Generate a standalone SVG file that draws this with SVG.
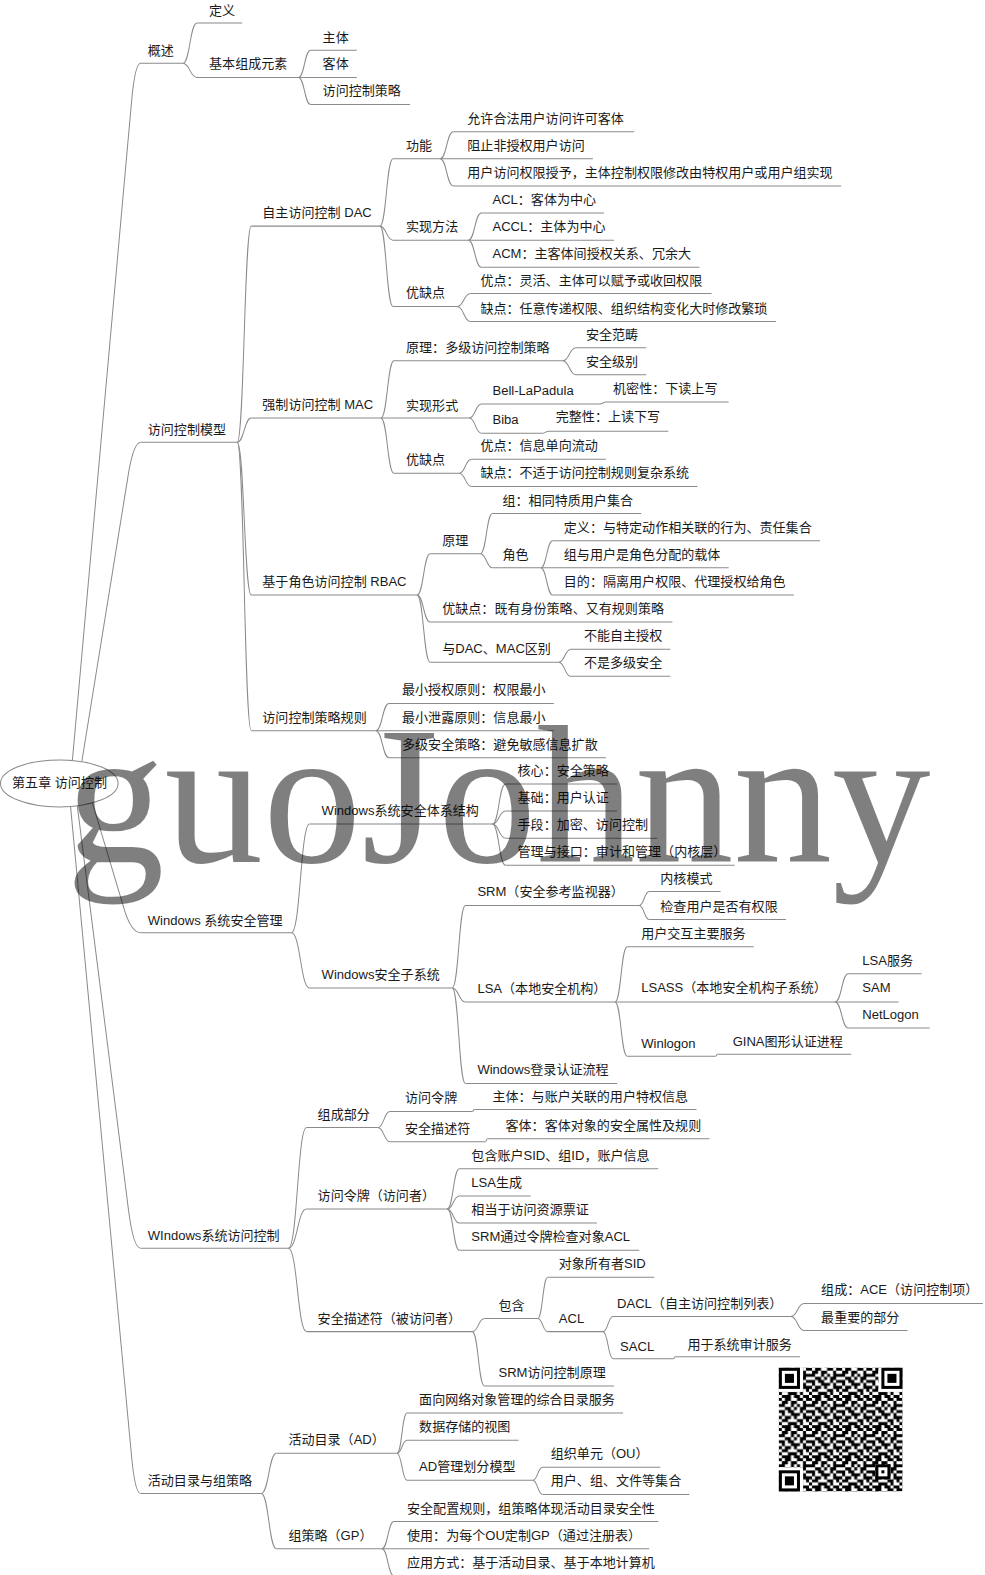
<svg xmlns="http://www.w3.org/2000/svg" width="985" height="1575" viewBox="0 0 985 1575">
<style>
.t{font-family:"Liberation Sans","Noto Sans CJK SC",sans-serif;font-size:13px;fill:#1a1a1a}
.u{stroke:#8a8a8a;stroke-width:1;fill:none}
#connectors path{stroke:#8a8a8a;stroke-width:1;fill:none}
.wm{font-family:"Liberation Serif",serif;font-size:196px;fill:#000;fill-opacity:0.5}
</style>
<defs>
<pattern id="qrp" patternUnits="userSpaceOnUse" x="775" y="1361" width="30" height="30">
<rect width="30" height="30" fill="#fff"/>
<path fill="#000" d="M0 0h3v3h-3z M6 0h6v3h-6z M18 0h6v3h-6z M27 0h3v3h-3z M3 3h6v3h-6z M12 3h6v3h-6z M24 3h3v3h-3z M0 6h6v3h-6z M12 6h3v3h-3z M18 6h3v3h-3z M24 6h6v3h-6z M6 9h6v3h-6z M15 9h3v3h-3z M21 9h6v3h-6z M0 12h6v3h-6z M9 12h6v3h-6z M21 12h3v3h-3z M27 12h3v3h-3z M3 15h3v3h-3z M12 15h9v3h-9z M24 15h3v3h-3z M0 18h3v3h-3z M6 18h6v3h-6z M15 18h3v3h-3z M24 18h6v3h-6z M3 21h6v3h-6z M18 21h6v3h-6z M27 21h3v3h-3z M0 24h3v3h-3z M9 24h9v3h-9z M21 24h3v3h-3z M3 27h9v3h-9z M15 27h6v3h-6z M24 27h6v3h-6z"/>
</pattern>
</defs>
<rect width="985" height="1575" fill="#fff"/>
<g transform="scale(1.005)">
<g id="connectors">
<path d="M70 779 L131 100 Q134.4 63 140 63"/>
<path d="M78 779 L128 470 Q133.2 440 140 440"/>
<path d="M86 779 L124 906 Q131 928 140 928"/>
<path d="M74 779 L128 1205 Q132.8 1242 140 1242"/>
<path d="M68 779 L131 1450 Q134.4 1486 140 1486"/>
<path d="M182 63C189 63 189 23 196 23"/>
<path d="M182 63C189 63 189 77 196 77"/>
<path d="M297 77C303 77 303 50 309 50"/>
<path d="M297 77C303 77 303 104 309 104"/>
<path d="M236 440C243 440 243 225 250 225"/>
<path d="M236 440C243 440 243 416 250 416"/>
<path d="M236 440C243 440 243 592 250 592"/>
<path d="M236 440C243 440 243 727 250 727"/>
<path d="M378 225C384.5 225 384.5 158 391 158"/>
<path d="M378 225C384.5 225 384.5 239 391 239"/>
<path d="M378 225C384.5 225 384.5 305 391 305"/>
<path d="M438 158C444.5 158 444.5 131 451 131"/>
<path d="M438 158C444.5 158 444.5 185 451 185"/>
<path d="M466 239C472.5 239 472.5 212 479 212"/>
<path d="M466 239C472.5 239 472.5 266 479 266"/>
<path d="M455 305C461.5 305 461.5 292 468 292"/>
<path d="M455 305C461.5 305 461.5 320 468 320"/>
<path d="M379 416C385.5 416 385.5 359 392 359"/>
<path d="M379 416C385.5 416 385.5 471 392 471"/>
<path d="M560 359C566.5 359 566.5 346 573 346"/>
<path d="M560 359C566.5 359 566.5 373 573 373"/>
<path d="M467 416C473 416 473 402 479 402"/>
<path d="M467 416C473 416 473 431 479 431"/>
<path d="M597 402C600 402 600 400 603 400"/>
<path d="M540 431C543 431 543 429 546 429"/>
<path d="M457 471C463 471 463 457 469 457"/>
<path d="M457 471C463 471 463 484 469 484"/>
<path d="M415 592C421.5 592 421.5 551 428 551"/>
<path d="M415 592C421.5 592 421.5 619 428 619"/>
<path d="M415 592C421.5 592 421.5 659 428 659"/>
<path d="M478 551C484 551 484 511 490 511"/>
<path d="M478 551C484 551 484 565 490 565"/>
<path d="M538 565C544 565 544 538 550 538"/>
<path d="M538 565C544 565 544 592 550 592"/>
<path d="M556 659C562 659 562 646 568 646"/>
<path d="M556 659C562 659 562 673 568 673"/>
<path d="M374 727C380.5 727 380.5 700 387 700"/>
<path d="M374 727C380.5 727 380.5 754 387 754"/>
<path d="M290 928C299 928 299 820 308 820"/>
<path d="M290 928C299 928 299 983 308 983"/>
<path d="M490 820C496.5 820 496.5 780 503 780"/>
<path d="M490 820C496.5 820 496.5 807 503 807"/>
<path d="M490 820C496.5 820 496.5 834 503 834"/>
<path d="M490 820C496.5 820 496.5 861 503 861"/>
<path d="M450 983C456.5 983 456.5 901 463 901"/>
<path d="M450 983C456.5 983 456.5 997 463 997"/>
<path d="M450 983C456.5 983 456.5 1078 463 1078"/>
<path d="M636 901C641 901 641 887 646 887"/>
<path d="M636 901C641 901 641 915 646 915"/>
<path d="M612 997C618 997 618 942 624 942"/>
<path d="M612 997C618 997 618 1051 624 1051"/>
<path d="M831 997C837.5 997 837.5 969 844 969"/>
<path d="M831 997C837.5 997 837.5 1023 844 1023"/>
<path d="M712 1051C713 1051 713 1049 714 1049"/>
<path d="M287 1242C296 1242 296 1122 305 1122"/>
<path d="M287 1242C296 1242 296 1203 305 1203"/>
<path d="M287 1242C296 1242 296 1325 305 1325"/>
<path d="M376 1122C382 1122 382 1106 388 1106"/>
<path d="M376 1122C382 1122 382 1136 388 1136"/>
<path d="M470 1106C471 1106 471 1104 472 1104"/>
<path d="M483 1136C484 1136 484 1133 485 1133"/>
<path d="M445 1203C451 1203 451 1163 457 1163"/>
<path d="M445 1203C451 1203 451 1190 457 1190"/>
<path d="M445 1203C451 1203 451 1217 457 1217"/>
<path d="M445 1203C451 1203 451 1244 457 1244"/>
<path d="M470 1325C476 1325 476 1312 482 1312"/>
<path d="M470 1325C476 1325 476 1379 482 1379"/>
<path d="M535 1312C540 1312 540 1271 545 1271"/>
<path d="M535 1312C540 1312 540 1325 545 1325"/>
<path d="M600 1325C605 1325 605 1310 610 1310"/>
<path d="M600 1325C605 1325 605 1352 610 1352"/>
<path d="M787 1310C793.5 1310 793.5 1297 800 1297"/>
<path d="M787 1310C793.5 1310 793.5 1324 800 1324"/>
<path d="M670 1352C671 1352 671 1350 672 1350"/>
<path d="M260 1486C267.5 1486 267.5 1446 275 1446"/>
<path d="M260 1486C267.5 1486 267.5 1541 275 1541"/>
<path d="M395 1446C400 1446 400 1406 405 1406"/>
<path d="M395 1446C400 1446 400 1433 405 1433"/>
<path d="M395 1446C400 1446 400 1473 405 1473"/>
<path d="M530 1473C535 1473 535 1460 540 1460"/>
<path d="M530 1473C535 1473 535 1487 540 1487"/>
<path d="M380 1541C386 1541 386 1514 392 1514"/>
<path d="M380 1541C386 1541 386 1568 392 1568"/>
</g>

<g id="root"><ellipse cx="59" cy="779.5" rx="58.5" ry="23.4" fill="#fff" stroke="#8a8a8a" stroke-width="1"/><text class="t" x="12" y="783">第五章 访问控制</text></g>

<g id="n1"><path class="u" d="M140 63H182"/><text class="t" x="147" y="55">概述</text></g>
<g id="n1-1"><path class="u" d="M196 23H241"/><text class="t" x="208" y="15">定义</text></g>
<g id="n1-2"><path class="u" d="M196 77H297"/><text class="t" x="208" y="68">基本组成元素</text></g>
<g id="n1-2-1"><path class="u" d="M309 50H355"/><text class="t" x="321" y="42">主体</text></g>
<g id="n1-2-2"><path class="u" d="M297 77H355"/><text class="t" x="321" y="68">客体</text></g>
<g id="n1-2-3"><path class="u" d="M309 104H408"/><text class="t" x="321" y="95">访问控制策略</text></g>

<g id="n2"><path class="u" d="M140 440H236"/><text class="t" x="147" y="432">访问控制模型</text></g>
<g id="n2-1"><path class="u" d="M250 225H378"/><text class="t" x="261" y="216">自主访问控制 DAC</text></g>
<g id="n2-1-1"><path class="u" d="M391 158H438"/><text class="t" x="404" y="149">功能</text></g>
<g id="n2-1-1-1"><path class="u" d="M451 131H631"/><text class="t" x="465" y="122">允许合法用户访问许可客体</text></g>
<g id="n2-1-1-2"><path class="u" d="M438 158H590"/><text class="t" x="465" y="149">阻止非授权用户访问</text></g>
<g id="n2-1-1-3"><path class="u" d="M451 185H837"/><text class="t" x="465" y="176">用户访问权限授予，主体控制权限修改由特权用户或用户组实现</text></g>
<g id="n2-1-2"><path class="u" d="M391 239H466"/><text class="t" x="404" y="230">实现方法</text></g>
<g id="n2-1-2-1"><path class="u" d="M479 212H601"/><text class="t" x="490" y="203">ACL：客体为中心</text></g>
<g id="n2-1-2-2"><path class="u" d="M466 239H611"/><text class="t" x="490" y="230">ACCL：主体为中心</text></g>
<g id="n2-1-2-3"><path class="u" d="M479 266H696"/><text class="t" x="490" y="257">ACM：主客体间授权关系、冗余大</text></g>
<g id="n2-1-3"><path class="u" d="M391 305H455"/><text class="t" x="404" y="296">优缺点</text></g>
<g id="n2-1-3-1"><path class="u" d="M468 292H708"/><text class="t" x="478" y="284">优点：灵活、主体可以赋予或收回权限</text></g>
<g id="n2-1-3-2"><path class="u" d="M468 320H772"/><text class="t" x="478" y="311">缺点：任意传递权限、组织结构变化大时修改繁琐</text></g>

<g id="n2-2"><path class="u" d="M250 416H379"/><text class="t" x="261" y="407">强制访问控制 MAC</text></g>
<g id="n2-2-1"><path class="u" d="M392 359H560"/><text class="t" x="404" y="350">原理：多级访问控制策略</text></g>
<g id="n2-2-1-1"><path class="u" d="M573 346H643"/><text class="t" x="583" y="337">安全范畴</text></g>
<g id="n2-2-1-2"><path class="u" d="M573 373H643"/><text class="t" x="583" y="364">安全级别</text></g>
<g id="n2-2-2"><path class="u" d="M379 416H467"/><text class="t" x="404" y="408">实现形式</text></g>
<g id="n2-2-2-1"><path class="u" d="M479 402H597"/><text class="t" x="490" y="393">Bell-LaPadula</text></g>
<g id="n2-2-2-1-1"><path class="u" d="M603 400H725"/><text class="t" x="610" y="391">机密性：下读上写</text></g>
<g id="n2-2-2-2"><path class="u" d="M479 431H540"/><text class="t" x="490" y="422">Biba</text></g>
<g id="n2-2-2-2-1"><path class="u" d="M546 429H665"/><text class="t" x="553" y="419">完整性：上读下写</text></g>
<g id="n2-2-3"><path class="u" d="M392 471H457"/><text class="t" x="404" y="462">优缺点</text></g>
<g id="n2-2-3-1"><path class="u" d="M469 457H603"/><text class="t" x="478" y="448">优点：信息单向流动</text></g>
<g id="n2-2-3-2"><path class="u" d="M469 484H694"/><text class="t" x="478" y="475">缺点：不适于访问控制规则复杂系统</text></g>

<g id="n2-3"><path class="u" d="M250 592H415"/><text class="t" x="261" y="583">基于角色访问控制 RBAC</text></g>
<g id="n2-3-1"><path class="u" d="M428 551H478"/><text class="t" x="440" y="542">原理</text></g>
<g id="n2-3-1-1"><path class="u" d="M490 511H638"/><text class="t" x="500" y="502">组：相同特质用户集合</text></g>
<g id="n2-3-1-2"><path class="u" d="M490 565H538"/><text class="t" x="500" y="556">角色</text></g>
<g id="n2-3-1-2-1"><path class="u" d="M550 538H816"/><text class="t" x="561" y="529">定义：与特定动作相关联的行为、责任集合</text></g>
<g id="n2-3-1-2-2"><path class="u" d="M538 565H725"/><text class="t" x="561" y="556">组与用户是角色分配的载体</text></g>
<g id="n2-3-1-2-3"><path class="u" d="M550 592H790"/><text class="t" x="561" y="583">目的：隔离用户权限、代理授权给角色</text></g>
<g id="n2-3-2"><path class="u" d="M428 619H669"/><text class="t" x="440" y="610">优缺点：既有身份策略、又有规则策略</text></g>
<g id="n2-3-3"><path class="u" d="M428 659H556"/><text class="t" x="440" y="650">与DAC、MAC区别</text></g>
<g id="n2-3-3-1"><path class="u" d="M568 646H667"/><text class="t" x="581" y="637">不能自主授权</text></g>
<g id="n2-3-3-2"><path class="u" d="M568 673H667"/><text class="t" x="581" y="664">不是多级安全</text></g>

<g id="n2-4"><path class="u" d="M250 727H374"/><text class="t" x="261" y="718">访问控制策略规则</text></g>
<g id="n2-4-1"><path class="u" d="M387 700H551"/><text class="t" x="400" y="691">最小授权原则：权限最小</text></g>
<g id="n2-4-2"><path class="u" d="M374 727H551"/><text class="t" x="400" y="718">最小泄露原则：信息最小</text></g>
<g id="n2-4-3"><path class="u" d="M387 754H603"/><text class="t" x="400" y="745">多级安全策略：避免敏感信息扩散</text></g>

<g id="n3"><path class="u" d="M140 928H290"/><text class="t" x="147" y="920">Windows 系统安全管理</text></g>
<g id="n3-1"><path class="u" d="M308 820H490"/><text class="t" x="320" y="811">Windows系统安全体系结构</text></g>
<g id="n3-1-1"><path class="u" d="M503 780H614"/><text class="t" x="515" y="771">核心：安全策略</text></g>
<g id="n3-1-2"><path class="u" d="M503 807H614"/><text class="t" x="515" y="798">基础：用户认证</text></g>
<g id="n3-1-3"><path class="u" d="M503 834H654"/><text class="t" x="515" y="825">手段：加密、访问控制</text></g>
<g id="n3-1-4"><path class="u" d="M503 861H731"/><text class="t" x="515" y="852">管理与接口：审计和管理（内核层）</text></g>
<g id="n3-2"><path class="u" d="M308 983H450"/><text class="t" x="320" y="974">Windows安全子系统</text></g>
<g id="n3-2-1"><path class="u" d="M463 901H636"/><text class="t" x="475" y="892">SRM（安全参考监视器）</text></g>
<g id="n3-2-1-1"><path class="u" d="M646 887H717"/><text class="t" x="657" y="879">内核模式</text></g>
<g id="n3-2-1-2"><path class="u" d="M646 915H782"/><text class="t" x="657" y="906">检查用户是否有权限</text></g>
<g id="n3-2-2"><path class="u" d="M463 997H612"/><text class="t" x="475" y="988">LSA（本地安全机构）</text></g>
<g id="n3-2-2-1"><path class="u" d="M624 942H750"/><text class="t" x="638" y="933">用户交互主要服务</text></g>
<g id="n3-2-2-2"><path class="u" d="M612 997H831"/><text class="t" x="638" y="987">LSASS（本地安全机构子系统）</text></g>
<g id="n3-2-2-2-1"><path class="u" d="M844 969H917"/><text class="t" x="858" y="960">LSA服务</text></g>
<g id="n3-2-2-2-2"><path class="u" d="M831 997H894"/><text class="t" x="858" y="987">SAM</text></g>
<g id="n3-2-2-2-3"><path class="u" d="M844 1023H925"/><text class="t" x="858" y="1014">NetLogon</text></g>
<g id="n3-2-2-3"><path class="u" d="M624 1051H712"/><text class="t" x="638" y="1043">Winlogon</text></g>
<g id="n3-2-2-3-1"><path class="u" d="M714 1049H847"/><text class="t" x="729" y="1041">GINA图形认证进程</text></g>
<g id="n3-2-3"><path class="u" d="M463 1078H614"/><text class="t" x="475" y="1069">Windows登录认证流程</text></g>

<g id="n4"><path class="u" d="M140 1242H287"/><text class="t" x="147" y="1234">WIndows系统访问控制</text></g>
<g id="n4-1"><path class="u" d="M305 1122H376"/><text class="t" x="316" y="1113">组成部分</text></g>
<g id="n4-1-1"><path class="u" d="M388 1106H470"/><text class="t" x="403" y="1097">访问令牌</text></g>
<g id="n4-1-1-1"><path class="u" d="M472 1104H693"/><text class="t" x="490" y="1096">主体：与账户关联的用户特权信息</text></g>
<g id="n4-1-2"><path class="u" d="M388 1136H483"/><text class="t" x="403" y="1127">安全描述符</text></g>
<g id="n4-1-2-1"><path class="u" d="M485 1133H706"/><text class="t" x="503" y="1124">客体：客体对象的安全属性及规则</text></g>
<g id="n4-2"><path class="u" d="M305 1203H445"/><text class="t" x="316" y="1194">访问令牌（访问者）</text></g>
<g id="n4-2-1"><path class="u" d="M457 1163H655"/><text class="t" x="469" y="1154">包含账户SID、组ID，账户信息</text></g>
<g id="n4-2-2"><path class="u" d="M457 1190H528"/><text class="t" x="469" y="1181">LSA生成</text></g>
<g id="n4-2-3"><path class="u" d="M457 1217H594"/><text class="t" x="469" y="1208">相当于访问资源票证</text></g>
<g id="n4-2-4"><path class="u" d="M457 1244H636"/><text class="t" x="469" y="1235">SRM通过令牌检查对象ACL</text></g>
<g id="n4-3"><path class="u" d="M305 1325H470"/><text class="t" x="316" y="1316">安全描述符（被访问者）</text></g>
<g id="n4-3-1"><path class="u" d="M482 1312H535"/><text class="t" x="496" y="1303">包含</text></g>
<g id="n4-3-1-1"><path class="u" d="M545 1271H651"/><text class="t" x="556" y="1262">对象所有者SID</text></g>
<g id="n4-3-1-2"><path class="u" d="M545 1325H600"/><text class="t" x="556" y="1316">ACL</text></g>
<g id="n4-3-1-2-1"><path class="u" d="M610 1310H787"/><text class="t" x="614" y="1301">DACL（自主访问控制列表）</text></g>
<g id="n4-3-1-2-1-1"><path class="u" d="M800 1297H978"/><text class="t" x="817" y="1288">组成：ACE（访问控制项）</text></g>
<g id="n4-3-1-2-1-2"><path class="u" d="M800 1324H903"/><text class="t" x="817" y="1315">最重要的部分</text></g>
<g id="n4-3-1-2-2"><path class="u" d="M610 1352H670"/><text class="t" x="617" y="1344">SACL</text></g>
<g id="n4-3-1-2-2-1"><path class="u" d="M672 1350H796"/><text class="t" x="684" y="1342">用于系统审计服务</text></g>
<g id="n4-3-2"><path class="u" d="M482 1379H611"/><text class="t" x="496" y="1370">SRM访问控制原理</text></g>

<g id="n5"><path class="u" d="M140 1486H260"/><text class="t" x="147" y="1478">活动目录与组策略</text></g>
<g id="n5-1"><path class="u" d="M275 1446H395"/><text class="t" x="287" y="1437">活动目录（AD）</text></g>
<g id="n5-1-1"><path class="u" d="M405 1406H620"/><text class="t" x="417" y="1397">面向网络对象管理的综合目录服务</text></g>
<g id="n5-1-2"><path class="u" d="M405 1433H516"/><text class="t" x="417" y="1424">数据存储的视图</text></g>
<g id="n5-1-3"><path class="u" d="M405 1473H530"/><text class="t" x="417" y="1464">AD管理划分模型</text></g>
<g id="n5-1-3-1"><path class="u" d="M540 1460H657"/><text class="t" x="548" y="1451">组织单元（OU）</text></g>
<g id="n5-1-3-2"><path class="u" d="M540 1487H686"/><text class="t" x="548" y="1478">用户、组、文件等集合</text></g>
<g id="n5-2"><path class="u" d="M275 1541H380"/><text class="t" x="287" y="1532">组策略（GP）</text></g>
<g id="n5-2-1"><path class="u" d="M392 1514H655"/><text class="t" x="405" y="1505">安全配置规则，组策略体现活动目录安全性</text></g>
<g id="n5-2-2"><path class="u" d="M380 1541H646"/><text class="t" x="405" y="1532">使用：为每个OU定制GP（通过注册表）</text></g>
<g id="n5-2-3"><path class="u" d="M392 1568H662"/><text class="t" x="405" y="1559">应用方式：基于活动目录、基于本地计算机</text></g>

<g id="qrcode">
<rect x="775" y="1361" width="123" height="123" fill="url(#qrp)"/>
<rect x="775" y="1361" width="24" height="24" fill="#fff"/><rect x="775" y="1361" width="21" height="21" fill="#000"/><rect x="778" y="1364" width="15" height="15" fill="#fff"/><rect x="781" y="1367" width="9" height="9" fill="#000"/>
<rect x="874" y="1361" width="24" height="24" fill="#fff"/><rect x="877" y="1361" width="21" height="21" fill="#000"/><rect x="880" y="1364" width="15" height="15" fill="#fff"/><rect x="883" y="1367" width="9" height="9" fill="#000"/>
<rect x="775" y="1460" width="24" height="24" fill="#fff"/><rect x="775" y="1463" width="21" height="21" fill="#000"/><rect x="778" y="1466" width="15" height="15" fill="#fff"/><rect x="781" y="1469" width="9" height="9" fill="#000"/>
<rect x="871" y="1457" width="15" height="15" fill="#000"/><rect x="874" y="1460" width="9" height="9" fill="#fff"/><rect x="877" y="1463" width="3" height="3" fill="#000"/>
</g>

<text class="wm" x="65.7" y="858">guoJohnny</text>
</g>
</svg>
